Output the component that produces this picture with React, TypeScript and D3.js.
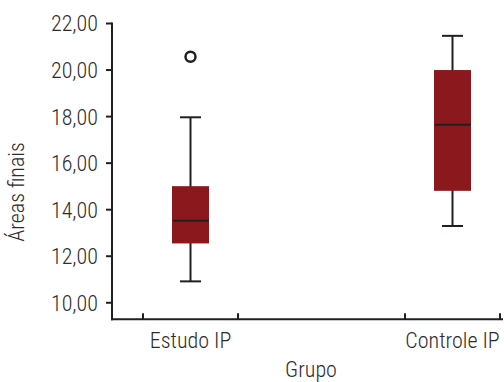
import React from "react";
import * as d3 from "d3";

const groups = ["Estudo IP", "Controle IP"];
const whiskerLow = [10.92, 13.3];
const q1 = [12.55, 14.81];
const median = [13.52, 17.65];
const q3 = [15.01, 20.0];
const whiskerHigh = [17.97, 21.47];
const outliers = [[20.57], []];
const yTicks = [10, 12, 14, 16, 18, 20, 22];

const W = 504;
const H = 382;
const font = "'Roboto Condensed', 'Liberation Sans Narrow', 'DejaVu Sans Condensed', 'Liberation Sans', sans-serif";
const ink = "#231f20";
const textInk = "#2e2b2c";
const fill = "#8b181c";

const App = () => {
  const x = d3.scalePoint<string>().domain(groups).range([190.5, 452.5]);
  const y = d3.scaleLinear().domain([9.29, 22]).range([319.3, 23.5]);
  const fmt = (v: number) => d3.format(".2f")(v).replace(".", ",");
  const boxW = 37;
  const capW = 21;
  const half = 47.5;
  const axisX = 112;
  const axisY = y(9.29);

  return (
    <div style={{ position: "fixed", left: 0, top: 0 }}>
      <svg width={W} height={H} style={{ fontFamily: font, fontWeight: 300, display: "block" }}>
        <rect width={W} height={H} fill="#fff" />
        {/* y axis */}
        <line x1={axisX} x2={axisX} y1={y(22) - 1} y2={axisY + 1} stroke={ink} strokeWidth={2} />
        {yTicks.map((t) => (
          <g key={t}>
            <line x1={axisX - 6} x2={axisX} y1={y(t)} y2={y(t)} stroke={ink} strokeWidth={2} />
            <text x={axisX - 14} y={y(t)} dy="0.36em" textAnchor="end" fontSize={22} fill={textInk}>
              {fmt(t)}
            </text>
          </g>
        ))}
        {/* x axis */}
        <line x1={axisX - 1} x2={W - 1} y1={axisY} y2={axisY} stroke={ink} strokeWidth={2} />
        {groups.map((g) => (
          <g key={g}>
            <line x1={x(g)! - half} x2={x(g)! - half} y1={axisY} y2={axisY - 6} stroke={ink} strokeWidth={2} />
            <line x1={x(g)! + half} x2={x(g)! + half} y1={axisY} y2={axisY - 6} stroke={ink} strokeWidth={2} />
            <text x={x(g)!} y={348} textAnchor="middle" fontSize={22} fill={textInk}>
              {g}
            </text>
          </g>
        ))}
        {/* boxes */}
        {groups.map((g, i) => {
          const cx = x(g)!;
          return (
            <g key={g + "box"}>
              <line x1={cx} x2={cx} y1={y(whiskerLow[i])} y2={y(whiskerHigh[i])} stroke={ink} strokeWidth={2} />
              <line x1={cx - capW / 2} x2={cx + capW / 2} y1={y(whiskerLow[i])} y2={y(whiskerLow[i])} stroke={ink} strokeWidth={2} />
              <line x1={cx - capW / 2} x2={cx + capW / 2} y1={y(whiskerHigh[i])} y2={y(whiskerHigh[i])} stroke={ink} strokeWidth={2} />
              <rect x={cx - boxW / 2} width={boxW} y={y(q3[i])} height={y(q1[i]) - y(q3[i])} fill={fill} />
              <line x1={cx - boxW / 2 + 1} x2={cx + boxW / 2} y1={y(median[i])} y2={y(median[i])} stroke={ink} strokeWidth={2} />
              {outliers[i].map((o, j) => (
                <circle key={j} cx={cx} cy={y(o)} r={5} fill="#fff" stroke={ink} strokeWidth={2.5} />
              ))}
            </g>
          );
        })}
        {/* axis titles */}
        <text x={311} y={377} textAnchor="middle" fontSize={22} fill={textInk}>
          Grupo
        </text>
        <text transform={`translate(24, 192) rotate(-90)`} textAnchor="middle" fontSize={22} fill={textInk}>
          Áreas finais
        </text>
      </svg>
    </div>
  );
};

export default App;
